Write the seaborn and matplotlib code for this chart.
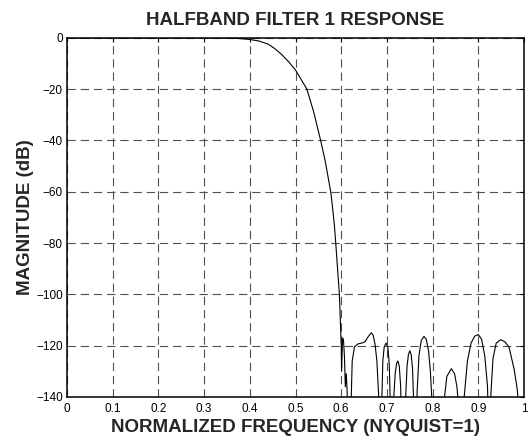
import matplotlib
matplotlib.use("Agg")
import matplotlib.pyplot as plt
import seaborn as sns
import pandas as pd

# ---- data ----
freq = [0.00, 0.05, 0.10, 0.15, 0.20, 0.25, 0.30, 0.35,
        0.36, 0.38, 0.40, 0.42, 0.44, 0.455, 0.47, 0.485, 0.50, 0.51, 0.525, 0.54,
        0.555, 0.565, 0.572, 0.577, 0.581, 0.585, 0.588, 0.592, 0.596, 0.598,
        0.600, 0.6008, 0.603, 0.605, 0.607, 0.609, 0.611, 0.613, 0.616, 0.621,
        0.622, 0.624, 0.629, 0.637, 0.645, 0.652, 0.659, 0.666, 0.670, 0.674,
        0.678, 0.682, 0.684,
        0.686, 0.689, 0.691, 0.694, 0.698, 0.702, 0.705, 0.707, 0.710,
        0.713, 0.715, 0.718, 0.721, 0.724, 0.727, 0.730, 0.733,
        0.738, 0.741, 0.744, 0.747, 0.750, 0.753, 0.756, 0.758, 0.761,
        0.763, 0.766, 0.770, 0.775, 0.781, 0.786, 0.791, 0.795, 0.798, 0.801,
        0.823, 0.826, 0.831, 0.841, 0.848, 0.853, 0.856, 0.859,
        0.866, 0.869, 0.876, 0.884, 0.892, 0.900, 0.907, 0.914, 0.920, 0.923,
        0.924, 0.927, 0.932, 0.939, 0.949, 0.958, 0.967, 0.978, 0.985, 0.989,
        0.993, 1.000]
mag_db = [0.0, 0.0, 0.0, 0.0, 0.0, 0.0, 0.0, 0.0,
          -0.1, -0.3, -0.6, -1.2, -2.4, -4.2, -6.5, -9.3, -12.5, -15.5, -20.0, -29.0,
          -40.0, -48.0, -55.0, -60.0, -66.0, -73.0, -80.0, -90.0, -100.0, -110.0,
          -120.0, -130.0, -117.0, -118.0, -124.0, -136.0, -131.0, -138.0, -160.0, -160.0,
          -140.0, -126.0, -120.5, -119.3, -119.0, -118.5, -116.5, -115.0, -116.0, -119.5,
          -126.0, -140.0, -160.0,
          -160.0, -140.0, -126.0, -120.5, -119.0, -120.5, -127.0, -140.0, -160.0,
          -160.0, -140.0, -131.0, -127.0, -126.0, -128.0, -136.0, -160.0,
          -160.0, -140.0, -128.0, -123.5, -122.0, -123.5, -129.0, -140.0, -160.0,
          -160.0, -138.0, -124.0, -118.0, -116.4, -117.5, -122.0, -130.0, -140.0, -160.0,
          -160.0, -140.0, -132.0, -129.0, -131.0, -136.0, -142.0, -160.0,
          -160.0, -140.0, -126.0, -119.0, -116.3, -115.7, -117.5, -124.0, -136.0, -160.0,
          -160.0, -140.0, -125.0, -119.0, -117.7, -118.5, -120.6, -129.0, -137.0, -145.0,
          -160.0, -150.0]

x_ticks = [0, 0.1, 0.2, 0.3, 0.4, 0.5, 0.6, 0.7, 0.8, 0.9, 1]
x_tick_labels = ["0", "0.1", "0.2", "0.3", "0.4", "0.5", "0.6", "0.7", "0.8", "0.9", "1"]
y_ticks = [0, -20, -40, -60, -80, -100, -120, -140]
y_tick_labels = ["0", "\u221220", "\u221240", "\u221260", "\u221280", "\u2212100", "\u2212120", "\u2212140"]

title = "HALFBAND FILTER 1 RESPONSE"
xlabel = "NORMALIZED FREQUENCY (NYQUIST=1)"
ylabel = "MAGNITUDE (dB)"

# ---- plotting ----
sns.set_style("white")
plt.rcParams["font.family"] = ["Liberation Sans", "DejaVu Sans"]
plt.rcParams["lines.scale_dashes"] = False

df = pd.DataFrame({"freq": freq, "mag": mag_db})

fig = plt.figure(figsize=(5.31, 4.41), dpi=100)
ax = fig.add_axes([0.126, 0.100, 0.861, 0.814])

ax.grid(True, color="#505050", linestyle=(0, (6, 3.5)), linewidth=0.8)
ax.set_axisbelow(True)

sns.lineplot(data=df, x="freq", y="mag", sort=False, estimator=None,
             color="black", linewidth=0.8, ax=ax)

ax.set_xlim(0, 1)
ax.set_ylim(-140, 0)
ax.set_xticks(x_ticks)
ax.set_xticklabels(x_tick_labels)
ax.set_yticks(y_ticks)
ax.set_yticklabels(y_tick_labels)

ax.tick_params(direction="in", length=3, width=0.8, labelsize=8.5,
               top=True, right=True, colors="black")
ax.tick_params(axis="x", pad=4.5)
ax.tick_params(axis="y", pad=3)

for s in ax.spines.values():
    s.set_color("black")
    s.set_linewidth(1.1)

ax.set_title(title, fontsize=13.5, fontweight="bold", pad=9)
ax.set_xlabel(xlabel, fontsize=13.5, fontweight="bold", labelpad=3)
ax.set_ylabel(ylabel, fontsize=13.5, fontweight="bold", labelpad=1.5)

fig.savefig("out.png", dpi=100)
